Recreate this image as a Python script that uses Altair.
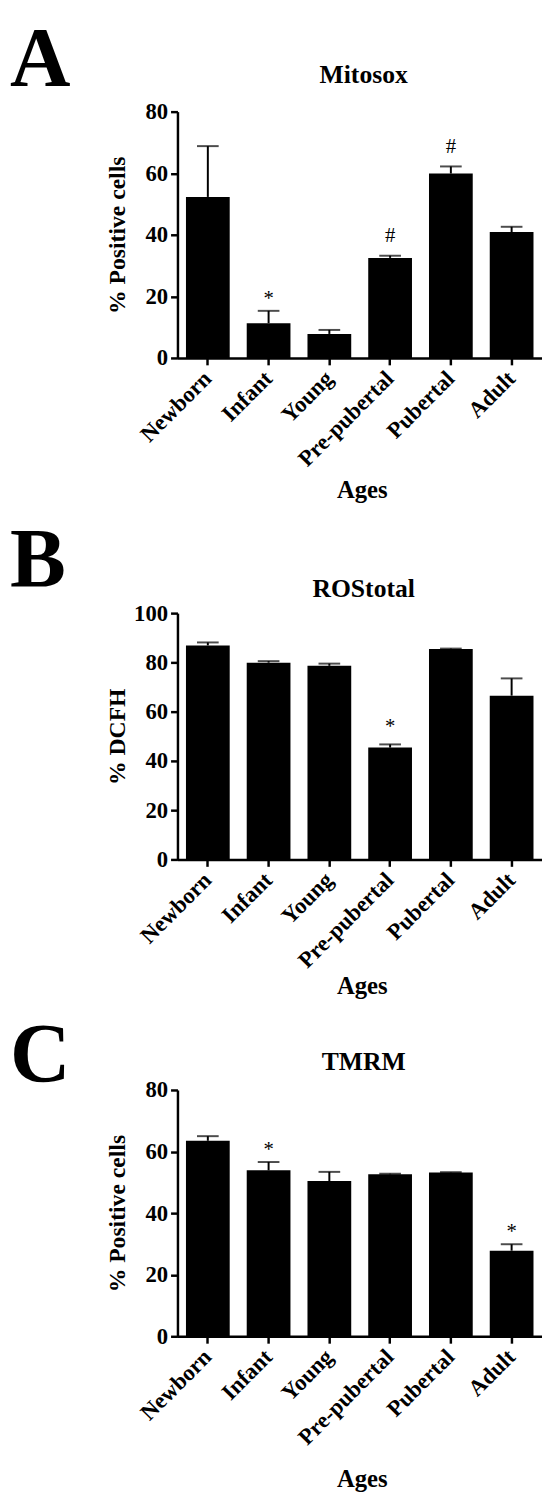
import altair as alt
import pandas as pd

ages = ["Newborn", "Infant", "Young", "Pre-pubertal", "Pubertal", "Adult"]

mitosox_mean = [52.3, 11.3, 7.8, 32.5, 59.9, 40.9]
mitosox_err = [16.5, 4.0, 1.3, 0.7, 2.3, 1.7]
mitosox_sig = ["", "*", "", "#", "#", ""]

ros_mean = [86.9, 79.9, 78.6, 45.4, 85.4, 66.5]
ros_err = [1.2, 0.6, 0.9, 1.3, 0.2, 7.0]
ros_sig = ["", "", "", "*", "", ""]

tmrm_mean = [63.5, 53.9, 50.4, 52.6, 53.2, 27.8]
tmrm_err = [1.5, 2.7, 3.0, 0.2, 0.1, 2.1]
tmrm_sig = ["", "*", "", "", "", "*"]

FONT = "Liberation Serif"
W, H = 370, 250


def panel(letter, title, ytitle, means, errs, sig, yticks, letter_y, title_y, ages_y, star_dy):
    df = pd.DataFrame({"age": ages, "mean": means, "err": errs, "sig": sig})
    base = alt.Chart(df).transform_calculate(top="datum.mean + datum.err")
    x = alt.X(
        "age:N",
        sort=ages,
        scale=alt.Scale(paddingInner=0.28, paddingOuter=0.14),
        axis=alt.Axis(
            title="Ages",
            labelAngle=-45,
            labelAlign="right",
            labelBaseline="middle",
            labelPadding=10,
            labelFont=FONT,
            labelFontSize=23,
            labelFontWeight="bold",
            labelColor="black",
            tickSize=7,
            tickWidth=2.5,
            tickColor="black",
            domainWidth=2.5,
            domainColor="black",
            titleFont=FONT,
            titleFontSize=25,
            titleFontWeight="bold",
            titleColor="black",
            titleX=187,
            titleY=ages_y,
            titleBaseline="middle",
            titleAlign="center",
        ),
    )
    y = alt.Y(
        "mean:Q",
        scale=alt.Scale(domain=[yticks[0], yticks[-1]], nice=False),
        axis=alt.Axis(
            title=ytitle,
            values=yticks,
            grid=False,
            labelFont=FONT,
            labelFontSize=23,
            labelFontWeight="bold",
            labelColor="black",
            labelPadding=3,
            tickSize=7,
            tickWidth=2.5,
            tickColor="black",
            domainWidth=2.5,
            domainColor="black",
            titleFont=FONT,
            titleFontSize=24,
            titleFontWeight="bold",
            titleColor="black",
            titleX=-61,
            titleY=H / 2,
            titleAngle=270,
            titleAlign="center",
            titleBaseline="middle",
        ),
    )
    bars = base.mark_bar(color="black").encode(x=x, y=y)
    rule = base.mark_rule(color="black", strokeWidth=2).encode(
        x=alt.X("age:N", sort=ages), y="mean:Q", y2="top:Q"
    )
    cap = base.mark_tick(color="black", orient="horizontal", size=22, thickness=2).encode(
        x=alt.X("age:N", sort=ages), y="top:Q"
    )
    star = base.transform_filter("datum.sig == '*'").mark_text(
        font=FONT, fontSize=21, baseline="alphabetic", dy=star_dy, color="black"
    ).encode(x=alt.X("age:N", sort=ages), y="top:Q", text="sig:N")
    hashm = base.transform_filter("datum.sig == '#'").mark_text(
        font=FONT, fontSize=21, baseline="alphabetic", dy=-14, color="black"
    ).encode(x=alt.X("age:N", sort=ages), y="top:Q", text="sig:N")

    lt = alt.Chart(pd.DataFrame({"t": [letter]})).mark_text(
        font=FONT, fontSize=85, fontWeight="bold", align="left", baseline="top", color="black"
    ).encode(text="t:N", x=alt.value(-170), y=alt.value(letter_y))
    tt = alt.Chart(pd.DataFrame({"t": [title]})).mark_text(
        font=FONT, fontSize=26, fontWeight="bold", align="center", baseline="middle", color="black"
    ).encode(text="t:N", x=alt.value(W / 2 + 4), y=alt.value(title_y))

    return alt.layer(bars, rule, cap, star, hashm, lt, tt).properties(width=W, height=H)


pA = panel("A", "Mitosox", "% Positive cells", mitosox_mean, mitosox_err, mitosox_sig,
           [0, 20, 40, 60, 80], -93, -37, 134, -6)
pB = panel("B", "ROStotal", "% DCFH", ros_mean, ros_err, ros_sig,
           [0, 20, 40, 60, 80, 100], -94, -24, 128, -12)
pC = panel("C", "TMRM", "% Positive cells", tmrm_mean, tmrm_err, tmrm_sig,
           [0, 20, 40, 60, 80], -75, -28, 144, -6)

chart = (
    alt.vconcat(pA, pB, pC, spacing=17)
    .properties(padding={"left": 2, "top": 0, "right": 0, "bottom": 0})
    .configure_view(stroke=None)
)

chart.save("out.html", embed_options={"renderer": "svg", "actions": False})
